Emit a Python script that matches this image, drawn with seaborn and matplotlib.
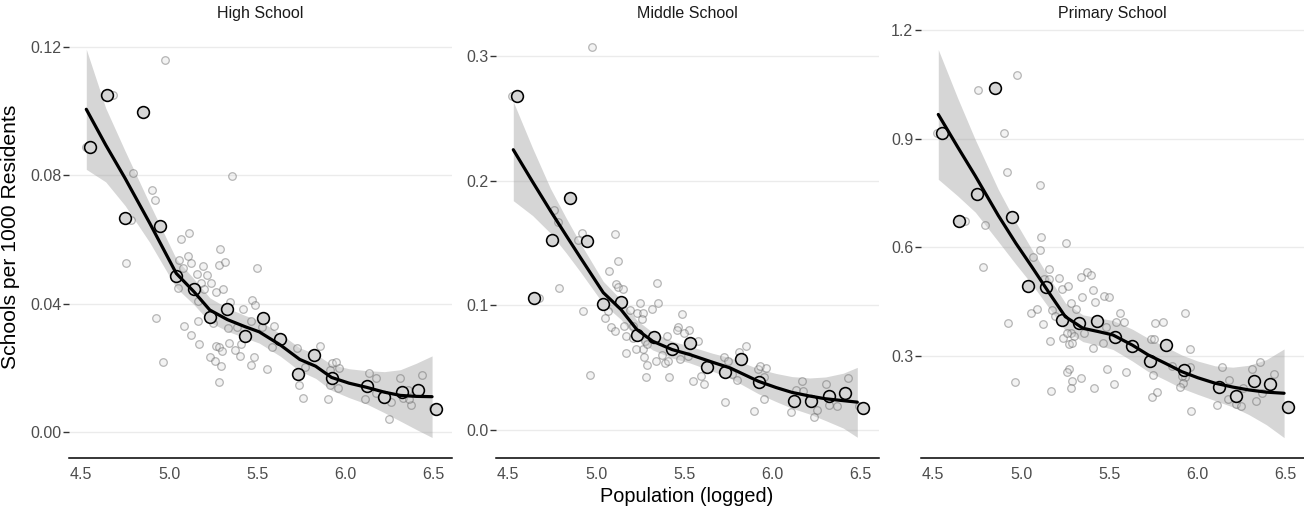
import numpy as np
import pandas as pd
import matplotlib
matplotlib.use("Agg")
import matplotlib.pyplot as plt
import seaborn as sns

# ---------------- data ----------------
levels = ["High School", "Middle School", "Primary School"]

# raw city-level points (x = logged population, y = schools per 1000 residents)
hs_x = [4.53, 4.683, 4.977, 4.793, 5.355, 4.783, 4.902, 4.917, 5.068, 5.112, 5.287, 5.108, 4.755, 5.053,
        5.125, 5.189, 5.212, 5.283, 5.317, 5.495, 5.155, 5.181, 5.048, 5.195, 5.236, 5.263, 5.306, 5.166,
        5.344, 5.419, 5.467, 5.487, 4.926, 5.085, 5.163, 5.249, 5.336, 5.387, 5.463, 5.527, 5.593, 5.121,
        5.168, 5.268, 5.280, 5.340, 5.374, 5.408, 5.300, 5.234, 5.404, 5.478, 4.964, 5.259, 5.291, 5.463,
        5.557, 5.285, 5.582, 5.727, 5.853, 5.768, 5.920, 5.944, 5.963, 5.910, 5.738, 5.757, 5.900, 5.910,
        5.954, 6.133, 6.172, 6.112, 6.174, 6.255, 6.244, 6.306, 6.325, 6.369, 6.357, 6.353, 6.435, 6.493,
        5.076]
hs_y = [0.0887, 0.1051, 0.1160, 0.0808, 0.0796, 0.0660, 0.0753, 0.0724, 0.0600, 0.0620, 0.0569, 0.0548,
        0.0527, 0.0535, 0.0525, 0.0517, 0.0490, 0.0521, 0.0529, 0.0512, 0.0492, 0.0465, 0.0449, 0.0445,
        0.0465, 0.0437, 0.0444, 0.0409, 0.0406, 0.0382, 0.0411, 0.0394, 0.0356, 0.0330, 0.0346, 0.0338,
        0.0323, 0.0326, 0.0346, 0.0328, 0.0330, 0.0303, 0.0273, 0.0269, 0.0264, 0.0276, 0.0255, 0.0274,
        0.0253, 0.0234, 0.0237, 0.0234, 0.0217, 0.0221, 0.0206, 0.0209, 0.0195, 0.0156, 0.0264, 0.0262,
        0.0267, 0.0203, 0.0216, 0.0217, 0.0198, 0.0193, 0.0147, 0.0106, 0.0102, 0.0147, 0.0136, 0.0185,
        0.0169, 0.0102, 0.0120, 0.0094, 0.0040, 0.0169, 0.0105, 0.0083, 0.0102, 0.0131, 0.0177, 0.0074,
        0.0510]

ms_x = [4.977, 4.523, 4.758, 4.783, 4.918, 4.899, 5.107, 5.125, 5.073, 5.112, 5.125, 5.153, 5.344, 4.790,
        4.677, 5.353, 5.248, 4.924, 5.069, 5.316, 5.191, 5.233, 5.263, 5.048, 5.484, 5.257, 5.082, 5.105,
        5.159, 5.210, 5.464, 5.459, 5.527, 5.167, 5.210, 5.399, 5.498, 5.577, 5.276, 5.267, 5.225, 5.289,
        5.371, 5.167, 5.272, 5.338, 5.389, 5.408, 5.474, 5.521, 5.287, 4.965, 5.280, 5.414, 5.549, 5.593,
        5.610, 5.723, 5.747, 5.809, 5.851, 5.770, 5.798, 5.732, 5.917, 5.930, 5.960, 5.949, 5.951, 5.894,
        6.168, 6.134, 6.171, 6.105, 6.252, 6.237, 6.303, 6.322, 6.365, 6.429, 6.492]
ms_y = [0.3076, 0.2679, 0.1768, 0.1666, 0.1580, 0.1521, 0.1569, 0.1357, 0.1276, 0.1174, 0.1150, 0.1128,
        0.1182, 0.1139, 0.1056, 0.1021, 0.1021, 0.0954, 0.0954, 0.0973, 0.0962, 0.0935, 0.0935, 0.0900,
        0.0927, 0.0887, 0.0828, 0.0792, 0.0833, 0.0833, 0.0828, 0.0800, 0.0798, 0.0752, 0.0739, 0.0752,
        0.0774, 0.0717, 0.0712, 0.0650, 0.0650, 0.0691, 0.0605, 0.0615, 0.0586, 0.0556, 0.0537, 0.0556,
        0.0570, 0.0596, 0.0518, 0.0438, 0.0422, 0.0425, 0.0395, 0.0435, 0.0371, 0.0583, 0.0551, 0.0626,
        0.0677, 0.0449, 0.0403, 0.0223, 0.0492, 0.0510, 0.0497, 0.0422, 0.0250, 0.0153, 0.0390, 0.0322,
        0.0309, 0.0142, 0.0156, 0.0107, 0.0368, 0.0202, 0.0194, 0.0416, 0.0188]

ps_x = [4.523, 4.979, 4.755, 4.901, 4.920, 5.107, 4.680, 4.792, 5.111, 5.104, 5.253, 5.068, 4.782, 5.157,
        5.128, 5.157, 5.213, 5.232, 5.264, 5.340, 5.374, 5.393, 5.406, 5.346, 5.418, 5.469, 5.497, 5.285,
        5.308, 5.053, 5.087, 5.172, 5.191, 4.926, 5.123, 5.558, 5.535, 5.582, 5.478, 5.355, 5.280, 5.298,
        5.238, 5.270, 5.166, 5.463, 5.406, 5.758, 5.803, 5.734, 5.752, 5.270, 5.261, 5.337, 5.289, 5.484,
        5.595, 4.964, 5.526, 5.280, 5.170, 5.412, 5.739, 5.771, 5.747, 5.261, 5.289, 5.927, 5.955, 5.853,
        5.955, 5.928, 5.913, 5.917, 5.898, 5.964, 6.137, 6.178, 6.112, 6.173, 6.216, 6.245, 6.310, 6.354,
        6.330, 6.367, 6.434, 6.258]
ps_y = [0.9155, 1.0747, 1.0342, 0.9147, 0.8078, 0.7720, 0.6726, 0.6625, 0.6276, 0.5926, 0.6128, 0.5740,
        0.5448, 0.5393, 0.5125, 0.5125, 0.5144, 0.4849, 0.4940, 0.5172, 0.5327, 0.5236, 0.4822, 0.4637,
        0.4499, 0.4656, 0.4637, 0.4471, 0.4297, 0.4195, 0.4289, 0.4270, 0.4104, 0.3919, 0.3875, 0.4195,
        0.3947, 0.3947, 0.3790, 0.3626, 0.3626, 0.3560, 0.3489, 0.3331, 0.3414, 0.3367, 0.3212, 0.3919,
        0.3947, 0.3470, 0.3470, 0.2641, 0.2550, 0.2402, 0.2319, 0.2633, 0.2550, 0.2291, 0.2219, 0.2108,
        0.2042, 0.2108, 0.1860, 0.2015, 0.2476, 0.3643, 0.3367, 0.4195, 0.3201, 0.2724, 0.2705, 0.2429,
        0.2448, 0.2263, 0.2153, 0.1482, 0.2705, 0.2337, 0.1639, 0.1813, 0.1675, 0.1629, 0.2633, 0.2834,
        0.1750, 0.1970, 0.2503, 0.2108]

# binned means (large circles)
bin_x = [4.55, 4.65, 4.75, 4.85, 4.95, 5.04, 5.14, 5.23, 5.33, 5.43, 5.53, 5.63, 5.73, 5.82, 5.92,
         6.12, 6.22, 6.32, 6.41, 6.51]
hs_bin = [0.0887, 0.1051, 0.0665, 0.0997, 0.0641, 0.0485, 0.0445, 0.0359, 0.0383, 0.0299, 0.0356, 0.0289,
          0.0180, 0.0241, 0.0169, 0.0143, 0.0109, 0.0126, 0.0131, 0.0072]
ms_bin = [0.2678, 0.1056, 0.1526, 0.1862, 0.1513, 0.1008, 0.1029, 0.0763, 0.0747, 0.0650, 0.0696, 0.0505,
          0.0462, 0.0567, 0.0384, 0.0231, 0.0236, 0.0274, 0.0298, 0.0175]
ps_bin = [0.9155, 0.6726, 0.7480, 1.0390, 0.6836, 0.4940, 0.4910, 0.3985, 0.3900, 0.3957, 0.3516, 0.3285,
          0.2870, 0.3295, 0.2614, 0.2153, 0.1905, 0.2300, 0.2236, 0.1584]

# smoothed fit with confidence band
hs_fx = [4.53, 4.64, 4.75, 4.89, 5.04, 5.14, 5.23, 5.33, 5.43, 5.51, 5.63, 5.74, 5.83, 5.92, 6.02, 6.12,
         6.22, 6.31, 6.40, 6.49]
hs_fit = [0.1005, 0.0894, 0.0790, 0.0650, 0.0494, 0.0437, 0.0380, 0.0350, 0.0328, 0.0312, 0.0271, 0.0226,
          0.0205, 0.0170, 0.0152, 0.0139, 0.0124, 0.0114, 0.0111, 0.0110]
hs_lo = [0.0818, 0.0779, 0.0705, 0.0590, 0.0449, 0.0397, 0.0342, 0.0314, 0.0293, 0.0277, 0.0236, 0.0190,
         0.0167, 0.0130, 0.0107, 0.0087, 0.0060, 0.0034, 0.0008, -0.0017]
hs_hi = [0.1192, 0.1009, 0.0875, 0.0710, 0.0539, 0.0477, 0.0418, 0.0386, 0.0363, 0.0347, 0.0306, 0.0262,
         0.0243, 0.0210, 0.0197, 0.0191, 0.0188, 0.0194, 0.0214, 0.0237]

ms_fx = [4.53, 4.64, 4.74, 4.83, 4.91, 5.04, 5.14, 5.23, 5.32, 5.43, 5.53, 5.66, 5.76, 5.92, 6.02, 6.11,
         6.21, 6.30, 6.40, 6.48]
ms_fit = [0.2249, 0.1990, 0.1760, 0.1560, 0.1384, 0.1102, 0.0967, 0.0806, 0.0712, 0.0645, 0.0605, 0.0543,
          0.0497, 0.0390, 0.0340, 0.0301, 0.0272, 0.0250, 0.0235, 0.0223]
ms_lo = [0.1840, 0.1720, 0.1580, 0.1420, 0.1269, 0.1012, 0.0887, 0.0731, 0.0642, 0.0577, 0.0538, 0.0471,
         0.0415, 0.0290, 0.0227, 0.0174, 0.0127, 0.0075, 0.0015, -0.0059]
ms_hi = [0.2635, 0.2260, 0.1940, 0.1700, 0.1499, 0.1192, 0.1047, 0.0881, 0.0782, 0.0713, 0.0672, 0.0615,
         0.0579, 0.0490, 0.0453, 0.0428, 0.0417, 0.0425, 0.0455, 0.0502]

ps_fx = [4.53, 4.64, 4.74, 4.87, 4.97, 5.06, 5.16, 5.25, 5.35, 5.44, 5.52, 5.63, 5.72, 5.82, 5.91, 6.00,
         6.10, 6.20, 6.29, 6.39, 6.49]
ps_fit = [0.967, 0.877, 0.797, 0.688, 0.611, 0.5465, 0.473, 0.4085, 0.3765, 0.367, 0.358, 0.330, 0.3028,
          0.279, 0.2567, 0.240, 0.2246, 0.214, 0.2062, 0.200, 0.197]
ps_lo = [0.788, 0.742, 0.697, 0.616, 0.553, 0.4985, 0.431, 0.3705, 0.3395, 0.329, 0.318, 0.286, 0.2568,
         0.233, 0.2107, 0.194, 0.1766, 0.159, 0.1382, 0.110, 0.0745]
ps_hi = [1.146, 1.012, 0.897, 0.760, 0.669, 0.5945, 0.515, 0.4465, 0.4135, 0.405, 0.398, 0.374, 0.3488,
         0.325, 0.3027, 0.286, 0.2726, 0.269, 0.2742, 0.290, 0.3193]

y_ticks = {"High School": [0.00, 0.04, 0.08, 0.12],
           "Middle School": [0.0, 0.1, 0.2, 0.3],
           "Primary School": [0.3, 0.6, 0.9, 1.2]}
y_fmt = {"High School": "{:.2f}", "Middle School": "{:.1f}", "Primary School": "{:.1f}"}
y_lims = {"High School": (-0.0080, 0.1255),
          "Middle School": (-0.0223, 0.3218),
          "Primary School": (0.019, 1.203)}
x_ticks = [4.5, 5.0, 5.5, 6.0, 6.5]

# ---------------- tables ----------------
raw = pd.concat([
    pd.DataFrame({"level": "High School", "x": hs_x, "y": hs_y}),
    pd.DataFrame({"level": "Middle School", "x": ms_x, "y": ms_y}),
    pd.DataFrame({"level": "Primary School", "x": ps_x, "y": ps_y}),
], ignore_index=True)
binned = pd.concat([
    pd.DataFrame({"level": "High School", "x": bin_x, "y": hs_bin}),
    pd.DataFrame({"level": "Middle School", "x": bin_x, "y": ms_bin}),
    pd.DataFrame({"level": "Primary School", "x": bin_x, "y": ps_bin}),
], ignore_index=True)
fits = {
    "High School": pd.DataFrame({"x": hs_fx, "fit": hs_fit, "lo": hs_lo, "hi": hs_hi}),
    "Middle School": pd.DataFrame({"x": ms_fx, "fit": ms_fit, "lo": ms_lo, "hi": ms_hi}),
    "Primary School": pd.DataFrame({"x": ps_fx, "fit": ps_fit, "lo": ps_lo, "hi": ps_hi}),
}

# ---------------- plot ----------------
sns.set_theme(style="white")
plt.rcParams["font.family"] = ["Liberation Sans", "DejaVu Sans"]

W, H = 1304, 508
fig = plt.figure(figsize=(W / 100, H / 100), dpi=100)
lefts = [69, 496, 921]
pw = 383
top_px, bot_px = 29, 457.7

for lvl, left in zip(levels, lefts):
    ax = fig.add_axes([left / W, 1 - bot_px / H, pw / W, (bot_px - top_px) / H])
    f = fits[lvl]
    ax.fill_between(f["x"], f["lo"], f["hi"], color="#999999", alpha=0.4, linewidth=0, zorder=2)
    sub = raw[raw["level"] == lvl]
    sns.scatterplot(data=sub, x="x", y="y", ax=ax, s=30, color=(0.85, 0.85, 0.85, 0.3),
                    edgecolor=(0.35, 0.35, 0.35, 0.42), linewidth=0.9, zorder=3, legend=False)
    bsub = binned[binned["level"] == lvl]
    sns.scatterplot(data=bsub, x="x", y="y", ax=ax, s=72, color="#D6D6D6",
                    edgecolor="black", linewidth=1.15, zorder=4, legend=False)
    sns.lineplot(data=f, x="x", y="fit", ax=ax, color="black", linewidth=2.3, zorder=5)

    ax.set_xlim(4.432, 6.603)
    ax.set_ylim(*y_lims[lvl])
    ax.set_xticks(x_ticks)
    ax.set_xticklabels([f"{v:.1f}" for v in x_ticks])
    ax.set_yticks(y_ticks[lvl])
    ax.set_yticklabels([y_fmt[lvl].format(v) for v in y_ticks[lvl]])
    ax.set_xlabel("")
    ax.set_ylabel("")
    ax.grid(axis="y", color="#EBEBEB", linewidth=1.0)
    ax.grid(axis="x", visible=False)
    ax.set_axisbelow(True)
    for s in ["top", "right", "left"]:
        ax.spines[s].set_visible(False)
    ax.spines["bottom"].set_color("black")
    ax.spines["bottom"].set_linewidth(1.1)
    ax.tick_params(axis="x", length=0, pad=7, labelsize=11.5, labelcolor="#4D4D4D")
    ax.tick_params(axis="y", length=4, width=1.0, color="#333333", pad=1.5, labelsize=11.5,
                   labelcolor="#4D4D4D", left=True)
    ax.text(0.5, 1 + 16 / (bot_px - top_px), lvl, transform=ax.transAxes, ha="center", va="center",
            fontsize=11.5, color="#1A1A1A")

fig.text(686.5 / W, 1 - 496 / H, "Population (logged)", ha="center", va="center", fontsize=14.3,
         color="black")
fig.text(11 / W, 1 - 237 / H, "Schools per 1000 Residents", ha="center", va="center", rotation=90,
         fontsize=15.2, color="black")

fig.savefig("out.png", dpi=100)
